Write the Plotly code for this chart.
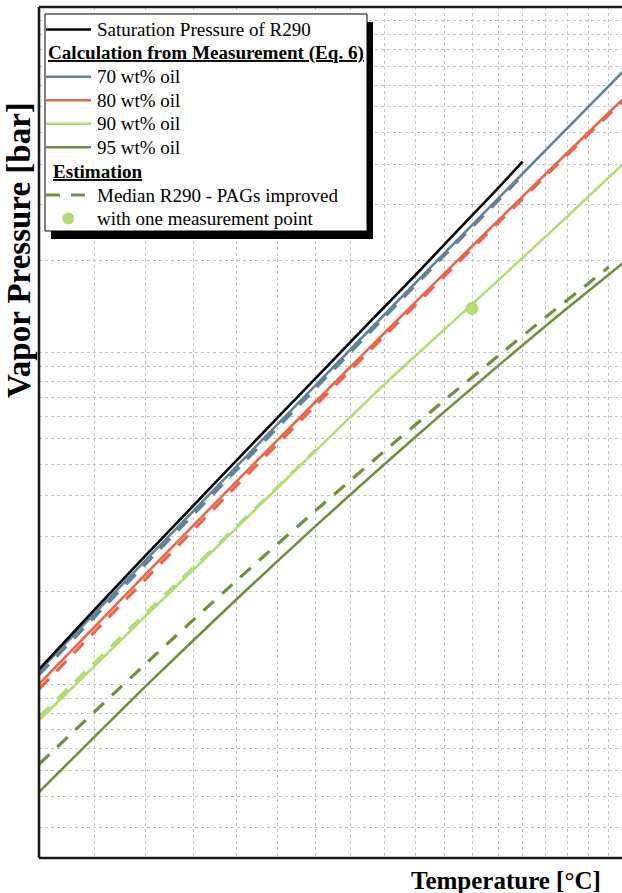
import math
import plotly.graph_objects as go

# ---- data -------------------------------------------------------------
# saturation pressure of pure R290
t_sat = [-40, -30, -20, -10, 0, 10, 20, 30, 40, 50, 60, 70, 80, 90]
p_sat = [1.11, 1.68, 2.45, 3.45, 4.74, 6.37, 8.36, 10.8, 13.7, 17.1, 21.2, 25.9, 31.3, 37.6]

# calculated from measurement (Eq. 6)
t_calc = [-40, -20, 0, 20, 40, 60, 80, 100, 120, 140]
p_70 = [1.098, 2.37, 4.55, 7.97, 12.98, 19.94, 29.1, 40.8, 55.2, 72.6]
p_80 = [1.003, 2.15, 4.10, 7.11, 11.44, 17.33, 24.98, 34.6, 46.2, 59.9]
p_90 = [0.78, 1.61, 2.97, 5.06, 8.01, 11.75, 16.5, 22.4, 29.6, 38.1]
p_95 = [0.474, 0.989, 1.81, 3.00, 4.60, 6.64, 9.12, 12.04, 15.37, 19.1]

# estimation: median R290 - PAGs improved
t_est_70 = [-40, -20, 0, 20, 40, 60, 80, 90]
p_est_70 = [1.07, 2.31, 4.44, 7.80, 12.75, 19.65, 28.7, 34.2]
t_est_80 = [-40, -20, 0, 20, 40, 60, 80, 100, 120, 140]
p_est_80 = [0.968, 2.08, 3.98, 6.93, 11.2, 17.0, 24.6, 34.1, 45.6, 59.1]
t_est_90 = [-40, -20, 0, 20]
p_est_90 = [0.80, 1.64, 3.00, 5.08]
t_est_95 = [-40, -20, 0, 20, 40, 60, 80, 100, 120, 130]
p_est_95 = [0.575, 1.155, 2.06, 3.34, 5.04, 7.19, 9.77, 12.8, 16.2, 18.1]

# single measurement point used for the estimation
t_point = [70]
p_point = [13.6]

# axis extent and grid
t_min, t_max = -40, 137
p_min, p_max = 0.3, 110
t_grid = list(range(-30, 140, 10))
p_grid_steps = [1.0, 1.9, 2.8, 3.7, 4.6, 5.5, 6.4, 7.3, 8.2, 9.1]
p_grid_decades = [0.1, 1, 10, 100]

# ---- styling ----------------------------------------------------------
W, H = 622, 893
ML, MR, MT, MB = 39, 0, 7, 35
SERIF = "Liberation Serif, Times New Roman, serif"
C_SAT = "#000000"
C_70 = "#5f8399"
C_80 = "#e9664b"
C_90 = "#b2dc74"
C_95 = "#6f913f"
DASH = "14px,11px"


def recip(temps):
    """Abscissa of a Clausius-Clapeyron plot: -1000 / T[K]."""
    return [-1000.0 / (t + 273.15) for t in temps]


p_grid = sorted({round(d * s, 4) for d in p_grid_decades for s in p_grid_steps
                 if p_min <= d * s <= p_max})

fig = go.Figure()


def line(t, p, color, width=2.6, dash=None):
    fig.add_trace(go.Scatter(
        x=recip(t), y=p, mode="lines", showlegend=False, hoverinfo="skip",
        line=dict(color=color, width=width, dash=dash, shape="spline", smoothing=0.6)))


line(t_calc, p_70, C_70)
line(t_calc, p_80, C_80)
line(t_calc, p_90, C_90)
line(t_calc, p_95, C_95)
line(t_est_70, p_est_70, C_70, 3.2, DASH)
line(t_est_80, p_est_80, C_80, 3.2, DASH)
line(t_est_90, p_est_90, C_90, 3.2, DASH)
line(t_est_95, p_est_95, C_95, 3.2, DASH)
line(t_sat, p_sat, C_SAT, 2.6)
fig.add_trace(go.Scatter(
    x=recip(t_point), y=p_point, mode="markers", showlegend=False,
    hoverinfo="skip", marker=dict(color=C_90, size=13)))

# ---- frame, legend box and annotations (pixel helpers) ------------------
PW, PH = W - ML - MR, H - MT - MB


def px(x):
    return (x - ML) / PW


def py(y):
    return (H - MB - y) / PH


shapes = []
for x0, y0, x1, y1 in [(0, 0, 0, 1), (0, 1, 1, 1), (0, 0, 1, 0)]:
    shapes.append(dict(type="line", xref="paper", yref="paper", x0=x0, y0=y0,
                       x1=x1, y1=y1, line=dict(color="#1a1a1a", width=2.6),
                       layer="above"))

# legend: drop shadow, then white box
shapes.append(dict(type="rect", xref="paper", yref="paper", x0=px(51), x1=px(373),
                   y0=py(239), y1=py(22), fillcolor="black",
                   line=dict(width=0), layer="above"))
shapes.append(dict(type="rect", xref="paper", yref="paper", x0=px(45), x1=px(367),
                   y0=py(231), y1=py(14), fillcolor="white",
                   line=dict(color="black", width=1), layer="above"))

rows = [29.5, 53.2, 76.8, 100.3, 123.8, 147.3, 171.5, 195.0, 218.5]
samples = [(0, C_SAT, None), (2, C_70, None), (3, C_80, None), (4, C_90, None),
           (5, C_95, None), (7, C_95, DASH)]
for r, c, d in samples:
    shapes.append(dict(type="line", xref="paper", yref="paper", x0=px(46), x1=px(91),
                       y0=py(rows[r]), y1=py(rows[r]),
                       line=dict(color=c, width=2.6 if d is None else 3, dash=d),
                       layer="above"))
shapes.append(dict(type="circle", xref="paper", yref="paper",
                   x0=px(62.3), x1=px(74.3), y0=py(rows[8] + 6), y1=py(rows[8] - 6),
                   fillcolor=C_90, line=dict(width=0), layer="above"))

annotations = []


def text(x, y, s, size=19, **kw):
    annotations.append(dict(xref="paper", yref="paper", x=px(x), y=py(y), text=s,
                            showarrow=False, xanchor="left", yanchor="middle",
                            font=dict(family=SERIF, size=size, color="black"), **kw))


UL = '<span style="text-decoration:underline">{}</span>'
text(95, rows[0], "Saturation Pressure of R290")
text(46, rows[1], "<b>" + UL.format("Calculation from Measurement (Eq. 6)") + "</b>", 19.1)
text(95, rows[2], "70 wt% oil")
text(95, rows[3], "80 wt% oil")
text(95, rows[4], "90 wt% oil")
text(95, rows[5], "95 wt% oil")
text(50.5, rows[6], "<b>" + UL.format("Estimation") + "</b>", 19.1)
text(95, rows[7], "Median R290 - PAGs improved")
text(95, rows[8], "with one measurement point")

# axis titles
annotations.append(dict(xref="paper", yref="paper", x=px(506), y=py(880),
                        text="<b>Temperature [°C]</b>", showarrow=False,
                        xanchor="center", yanchor="middle",
                        font=dict(family=SERIF, size=25, color="black")))
annotations.append(dict(xref="paper", yref="paper", x=px(19), y=py(250),
                        text="<b>Vapor Pressure [bar]</b>", showarrow=False,
                        xanchor="center", yanchor="middle", textangle=-90,
                        font=dict(family=SERIF, size=33, color="black")))

grid = dict(showgrid=True, gridcolor="#c4c4c4", gridwidth=1, griddash="dot",
            showticklabels=False, ticks="", zeroline=False, showline=False,
            tickmode="array")

fig.update_layout(
    width=W, height=H, margin=dict(l=ML, r=MR, t=MT, b=MB, pad=0),
    paper_bgcolor="white", plot_bgcolor="white", showlegend=False,
    xaxis=dict(range=[recip([t_min])[0], recip([t_max])[0]],
               tickvals=recip(t_grid), **grid),
    yaxis=dict(type="log", range=[math.log10(p_min), math.log10(p_max)],
               tickvals=p_grid, **grid),
    shapes=shapes, annotations=annotations,
)

fig.write_html("out.html")
